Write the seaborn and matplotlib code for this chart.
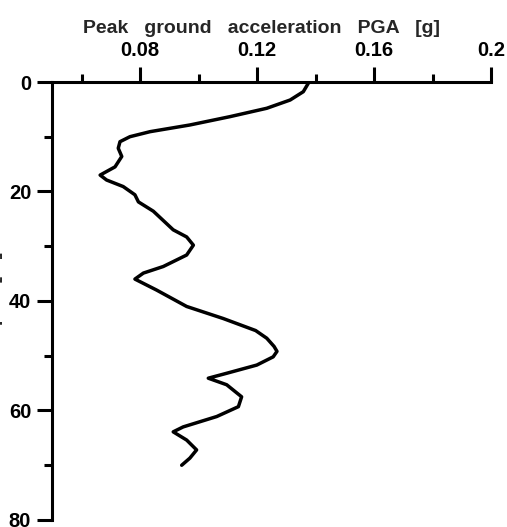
import matplotlib
matplotlib.use('Agg')
from matplotlib import pyplot as plt
import seaborn as sns

#PGA profile (depth in m, PGA in g)
depth = [0.24, 1.77, 3.29, 4.8, 6.33, 7.85, 9.07, 9.99, 10.9, 12.1, 13.6, 15.5, 17.0,
         17.9, 19.1, 20.6, 21.9, 23.6, 27.0, 28.3, 29.8, 31.6, 33.7, 34.9, 36.0, 38.0,
         41.0, 43.2, 45.4, 46.8, 48.3, 49.2, 50.2, 51.7, 53.2, 54.1, 55.3, 57.5, 59.3,
         61.1, 63.0, 63.9, 65.4, 67.2, 68.7, 70.0]
pga = [0.1375, 0.1358, 0.1313, 0.1233, 0.1107, 0.0970, 0.0834, 0.0765, 0.0731, 0.0725,
       0.0737, 0.0714, 0.0663, 0.0685, 0.0742, 0.0782, 0.0794, 0.0845, 0.0913, 0.0959,
       0.0982, 0.0959, 0.0879, 0.0811, 0.0782, 0.0856, 0.0959, 0.1084, 0.1195, 0.1233,
       0.1258, 0.1268, 0.1255, 0.1199, 0.1096, 0.1033, 0.1096, 0.1147, 0.1136, 0.1062,
       0.0947, 0.0913, 0.0959, 0.0993, 0.0970, 0.0942]

x_major = [0.08, 0.12, 0.16, 0.2]
x_major_labels = ['0.08', '0.12', '0.16', '0.2']
x_minor = [0.06, 0.10, 0.14, 0.18]
y_major = [0, 20, 40, 60, 80]
y_minor = [10, 30, 50, 70]

sns.set_style('ticks')
plt.rcParams['font.family'] = ['Liberation Sans', 'DejaVu Sans']
plt.rcParams['font.weight'] = 'bold'
plt.rcParams['axes.labelweight'] = 'bold'

fig, ax = plt.subplots(figsize=(5.07, 5.27), dpi=100)
fig.subplots_adjust(left=0.1035, right=0.9684, top=0.8444, bottom=0.0133)

sns.lineplot(x=pga, y=depth, sort=False, estimator=None, color='black', lw=2.5, ax=ax)
ax.lines[0].set_solid_joinstyle('round')

ax.set_xlim(0.05, 0.2)
ax.set_ylim(80, 0)
ax.xaxis.tick_top()
ax.xaxis.set_label_position('top')
ax.set_xticks(x_major)
ax.set_xticklabels(x_major_labels)
ax.set_xticks(x_minor, minor=True)
ax.set_yticks(y_major)
ax.set_yticks(y_minor, minor=True)

for s in ['bottom', 'right']:
    ax.spines[s].set_visible(False)
for s in ['top', 'left']:
    ax.spines[s].set_linewidth(2.2)
    ax.spines[s].set_color('black')

ax.tick_params(axis='x', which='major', length=11, width=2.2, pad=5, labelsize=14.5, colors='black')
ax.tick_params(axis='x', which='minor', length=6, width=2.2, colors='black')
ax.tick_params(axis='y', which='major', length=11, width=2.2, pad=4.3, labelsize=14.5, colors='black')
ax.tick_params(axis='y', which='minor', length=5.5, width=2.2, colors='black')

ax.set_xlabel('Peak   ground   acceleration   PGA   [g]', fontsize=14)
ax.xaxis.set_label_coords(0.4766, 1.112)
ax.set_ylabel('Depth  [m]', fontsize=14.5)
ax.yaxis.set_label_coords(-0.113, 0.5)

plt.savefig('out.png', dpi=100)
